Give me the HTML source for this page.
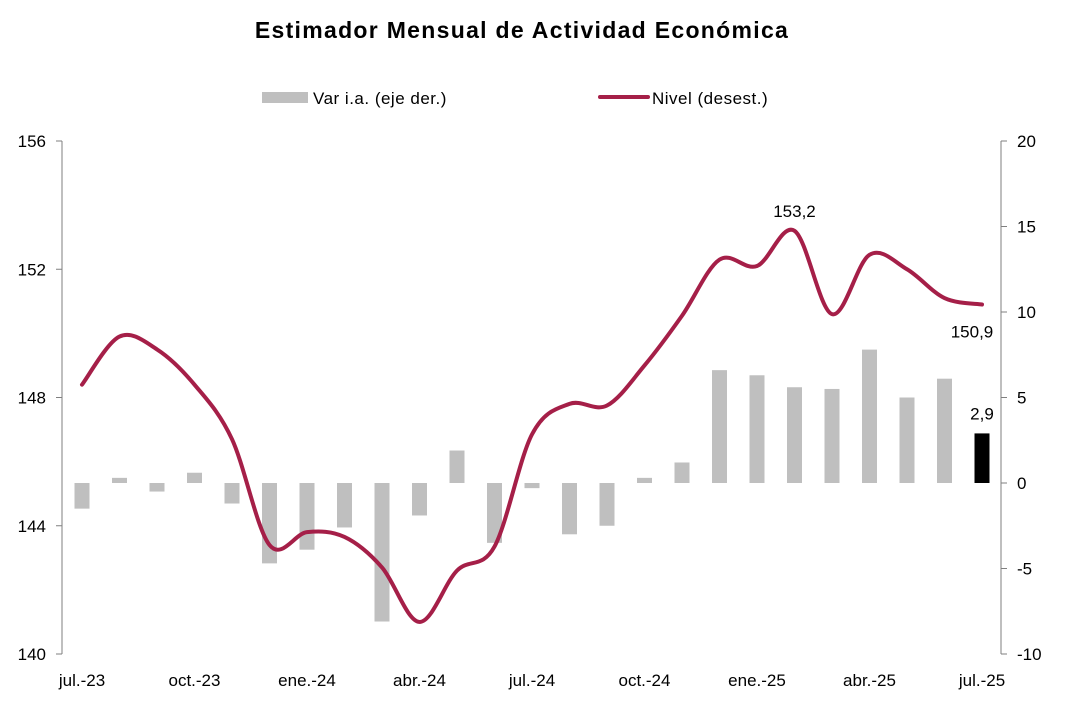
<!DOCTYPE html>
<html><head><meta charset="utf-8"><style>
body{margin:0;background:#fff;font-family:"Liberation Sans",sans-serif;}
svg text{font-family:"Liberation Sans",sans-serif;fill:#000;}
</style></head><body>
<svg id="c" width="1078" height="711">
<text x="522" y="38" text-anchor="middle" font-size="23" letter-spacing="1.3" font-weight="bold">Estimador Mensual de Actividad Económica</text>
<g>
<rect x="262" y="92" width="46" height="11" fill="#bfbfbf"/>
<text x="313" y="104" font-size="17" letter-spacing="0.5">Var i.a. (eje der.)</text>
<line x1="600" y1="97" x2="648" y2="97" stroke="#a51f48" stroke-width="4" stroke-linecap="round"/>
<text x="652" y="104" font-size="17" letter-spacing="0.5">Nivel (desest.)</text>
</g>
<g id="axes"></g><g id="bars"></g><g id="line"></g>
</svg>
<script>
const months=["jul.-23","ago.-23","sep.-23","oct.-23","nov.-23","dic.-23","ene.-24","feb.-24","mar.-24","abr.-24","may.-24","jun.-24","jul.-24","ago.-24","sep.-24","oct.-24","nov.-24","dic.-24","ene.-25","feb.-25","mar.-25","abr.-25","may.-25","jun.-25","jul.-25"];
const varIa=[-1.5,0.3,-0.5,0.6,-1.2,-4.7,-3.9,-2.6,-8.1,-1.9,1.9,-3.5,-0.3,-3.0,-2.5,0.3,1.2,6.6,6.3,5.6,5.5,7.8,5.0,6.1,2.9];
const nivel=[148.4,149.9,149.5,148.4,146.7,143.4,143.8,143.65,142.7,141.0,142.6,143.35,146.85,147.8,147.75,149.0,150.55,152.3,152.1,153.2,150.6,152.45,152.0,151.1,150.9];
const leftTicks=[140,144,148,152,156];
const rightTicks=[-10,-5,0,5,10,15,20];
const xLabelIdx=[0,3,6,9,12,15,18,21,24];
const X0=82,DX=37.5,TOP=141,BOT=654;
const xs=i=>X0+i*DX;
const yL=v=>BOT-(v-140)/16*(BOT-TOP);
const yR=v=>BOT-(v+10)/30*(BOT-TOP);
const NS="http://www.w3.org/2000/svg";
function mk(t,a,p){const e=document.createElementNS(NS,t);for(const k in a)e.setAttribute(k,a[k]);p.appendChild(e);return e;}
const ax=document.getElementById('axes');
let e=mk('line',{x1:62,y1:TOP,x2:62,y2:BOT,stroke:'#7f7f7f'},ax);


e=mk('line',{x1:1001,y1:TOP,x2:1001,y2:BOT,stroke:'#7f7f7f'},ax);


leftTicks.forEach(v=>{mk('line',{x1:56,x2:62,y1:yL(v),y2:yL(v),stroke:'#7f7f7f'},ax);
const t=mk('text',{x:46,y:yL(v)+6,'text-anchor':'end','font-size':17},ax);t.textContent=v;

});
rightTicks.forEach(v=>{mk('line',{x1:1001,x2:1007,y1:yR(v),y2:yR(v),stroke:'#7f7f7f'},ax);
const t=mk('text',{x:1017,y:yR(v)+6,'font-size':17},ax);t.textContent=v;

});
xLabelIdx.forEach(i=>{const t=mk('text',{x:xs(i),y:686,'text-anchor':'middle','font-size':17},ax);t.textContent=months[i];

});
const bg=document.getElementById('bars');
varIa.forEach((v,i)=>{const y0=yR(0),y1=yR(v);
const r=mk('rect',{x:xs(i)-7.5,width:15,y:Math.min(y0,y1),height:Math.abs(y1-y0),fill:i==varIa.length-1?'#000':'#bfbfbf'},bg);

});
const last=varIa.length-1;
let t=mk('text',{x:xs(last),y:yR(varIa[last])-14,'text-anchor':'middle','font-size':17},bg);t.textContent=String(varIa[last]).replace('.',',');


const pts=nivel.map((v,i)=>[xs(i),yL(v)]);
let d='M'+pts[0][0]+','+pts[0][1];
for(let i=0;i<pts.length-1;i++){const p0=pts[Math.max(0,i-1)],p1=pts[i],p2=pts[i+1],p3=pts[Math.min(pts.length-1,i+2)];
const k=1/6;d+=' C'+(p1[0]+(p2[0]-p0[0])*k)+','+(p1[1]+(p2[1]-p0[1])*k)+' '+(p2[0]-(p3[0]-p1[0])*k)+','+(p2[1]-(p3[1]-p1[1])*k)+' '+p2[0]+','+p2[1];}
const lg=document.getElementById('line');
const pl=mk('path',{d:d,fill:'none',stroke:'#a51f48','stroke-width':4,'stroke-linecap':'round'},lg);


let mi=nivel.indexOf(Math.max(...nivel));
t=mk('text',{x:xs(mi),y:yL(nivel[mi])-14,'text-anchor':'middle','font-size':17},lg);t.textContent=String(nivel[mi]).replace('.',',');


t=mk('text',{x:xs(last)-10,y:yL(nivel[last])+33,'text-anchor':'middle','font-size':17},lg);t.textContent=nivel[last].toFixed(1).replace('.',',');


</script>
</body></html>
